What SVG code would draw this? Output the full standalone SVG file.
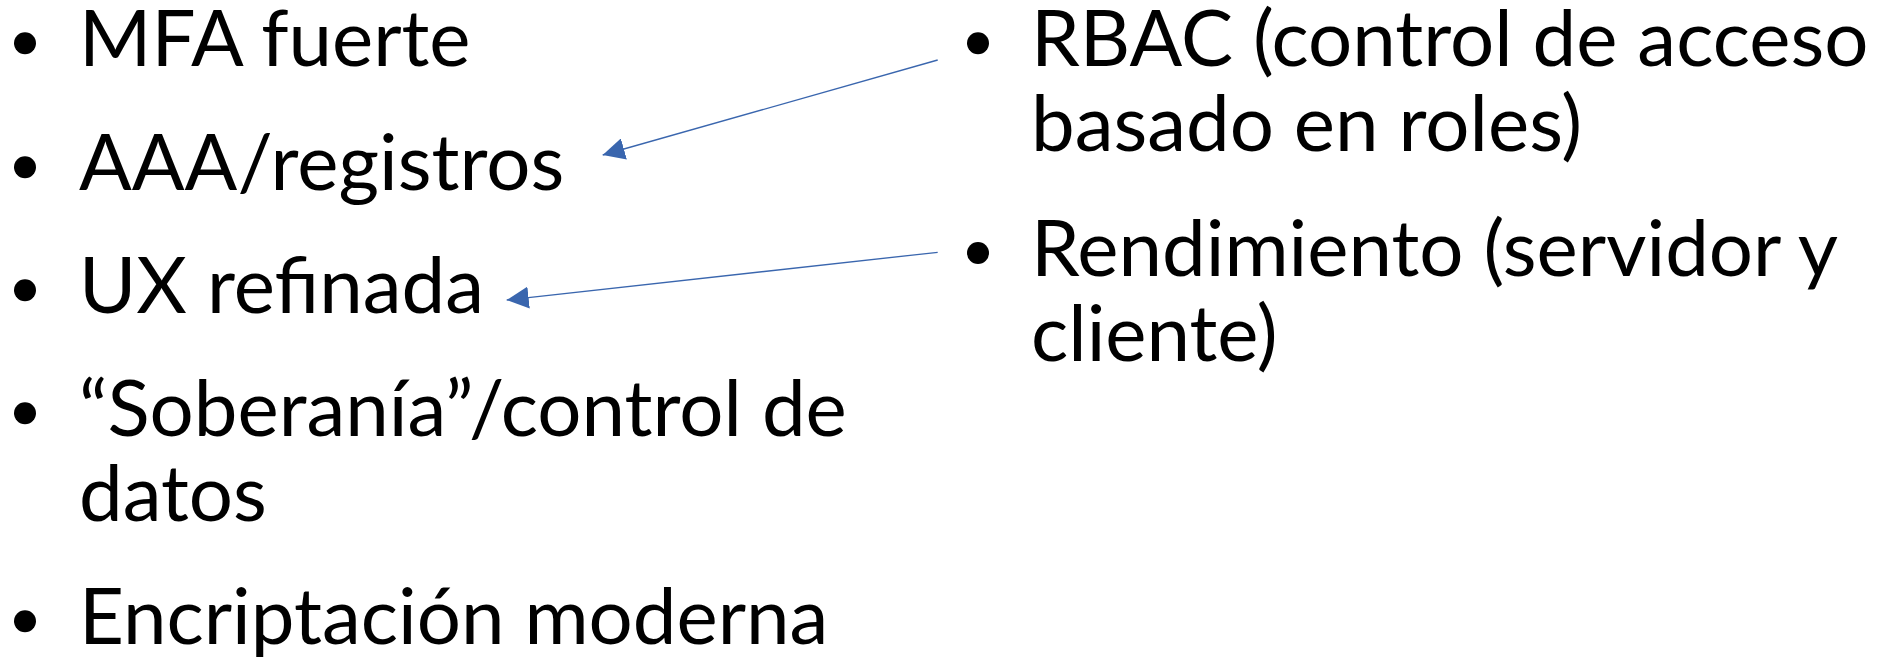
<svg xmlns="http://www.w3.org/2000/svg" width="1887" height="657" viewBox="0 0 1887 657">
<style>
.t{font-family:Lato,"Liberation Sans",sans-serif;font-size:78px;fill:#000}
.c{stroke:#3A66AE;stroke-width:1.3;fill:none}
</style>
<defs>
<marker id="ah" markerUnits="userSpaceOnUse" markerWidth="22" markerHeight="22" refX="22" refY="11" orient="auto" viewBox="0 0 22 22">
<path d="M0,0 L22,11 L0,22 z" fill="#3A66AE"/>
</marker>
</defs>
<rect width="1887" height="657" fill="#fff"/>
<g id="left">
<g id="n1"><circle cx="25" cy="43.3" r="11"/><text class="t" x="79" y="66">MFA fuerte</text></g>
<g id="n2"><circle cx="25" cy="167.3" r="11"/><text class="t" x="79" y="190">AAA/registros</text></g>
<g id="n3"><circle cx="25" cy="290.3" r="11"/><text class="t" x="79" y="313">UX refinada</text></g>
<g id="n4"><circle cx="25" cy="413.3" r="11"/><text class="t" x="79" y="436">“Soberanía”/control de</text><text class="t" x="79" y="521">datos</text></g>
<g id="n5"><circle cx="25" cy="621.3" r="11"/><text class="t" x="79" y="644">Encriptación moderna</text></g>
</g>
<g id="right">
<g id="n6"><circle cx="978" cy="43.3" r="11"/><text class="t" x="1031" y="66">RBAC (control de acceso</text><text class="t" x="1031" y="151">basado en roles)</text></g>
<g id="n7"><circle cx="978" cy="253" r="11"/><text class="t" x="1031" y="276">Rendimiento (servidor y</text><text class="t" x="1031" y="361">cliente)</text></g>
</g>
<g id="connectors">
<line class="c" x1="937.7" y1="60" x2="602.7" y2="155" marker-end="url(#ah)"/>
<line class="c" x1="937.7" y1="252.3" x2="506.7" y2="300" marker-end="url(#ah)"/>
</g>
</svg>
